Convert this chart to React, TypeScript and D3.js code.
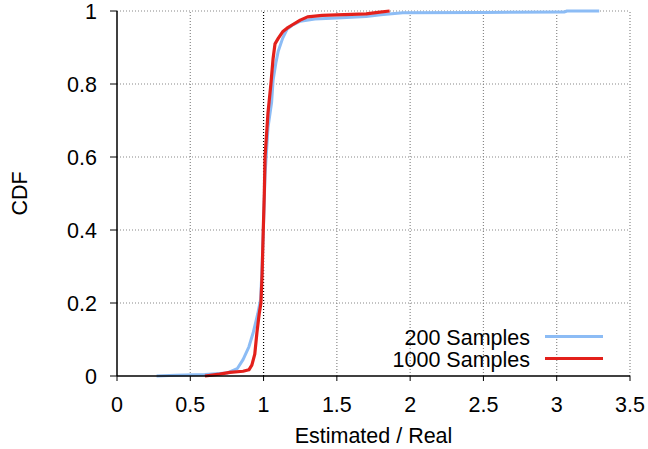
import React from "react";
import * as d3 from "d3";

const xTicks = [0, 0.5, 1, 1.5, 2, 2.5, 3, 3.5];
const yTicks = [0, 0.2, 0.4, 0.6, 0.8, 1];
const xTickLabels = ["0", "0.5", "1", "1.5", "2", "2.5", "3", "3.5"];
const yTickLabels = ["0", "0.2", "0.4", "0.6", "0.8", "1"];

// [Estimated/Real, CDF]
const samples200: [number, number][] = [
  [0.27, 0], [0.4, 0.002], [0.6, 0.004], [0.75, 0.008], [0.82, 0.02], [0.86, 0.045],
  [0.9, 0.08], [0.93, 0.12], [0.96, 0.17], [0.98, 0.21], [0.99, 0.3], [1.0, 0.42],
  [1.01, 0.55], [1.03, 0.68], [1.055, 0.75], [1.065, 0.81], [1.085, 0.86], [1.1, 0.89],
  [1.13, 0.925], [1.16, 0.95], [1.2, 0.962], [1.25, 0.972], [1.35, 0.978], [1.5, 0.981],
  [1.7, 0.985], [1.8, 0.99], [1.95, 0.995], [2.5, 0.996], [3.05, 0.997], [3.07, 1], [3.29, 1],
];
const samples1000: [number, number][] = [
  [0.6, 0], [0.7, 0.005], [0.77, 0.01], [0.86, 0.013], [0.9, 0.017], [0.92, 0.03],
  [0.94, 0.06], [0.955, 0.12], [0.97, 0.17], [0.982, 0.2], [0.99, 0.28], [0.998, 0.4],
  [1.005, 0.5], [1.01, 0.6], [1.03, 0.72], [1.05, 0.8], [1.065, 0.87], [1.078, 0.91],
  [1.1, 0.925], [1.13, 0.943], [1.16, 0.953], [1.2, 0.963], [1.25, 0.975], [1.3, 0.984],
  [1.4, 0.988], [1.55, 0.99], [1.7, 0.992], [1.78, 0.996], [1.86, 1],
];

const W = 648, H = 449;
const x0 = 117, x1 = 630, y0 = 376, y1 = 11;
const FONT = "'Liberation Sans', Arial, Helvetica, sans-serif";

export default function App() {
  const x = d3.scaleLinear().domain([0, 3.5]).range([x0, x1]);
  const y = d3.scaleLinear().domain([0, 1]).range([y0, y1]);
  const line = d3.line<[number, number]>().x((d) => x(d[0])).y((d) => y(d[1]));
  const fs = 21.5;
  return (
    <svg width={W} height={H} style={{ position: "absolute", left: 0, top: 0 }} fontFamily={FONT}>
      <rect width={W} height={H} fill="#fff" />
      {/* grid */}
      {xTicks.slice(1).map((t) => (
        <line key={"gx" + t} x1={x(t)} x2={x(t)} y1={y0} y2={y1}
          stroke={t === 1 ? "#000" : "#888"} strokeWidth={1.2} strokeDasharray="1,2" />
      ))}
      {yTicks.slice(1).map((t) => (
        <line key={"gy" + t} x1={x0} x2={x1} y1={y(t)} y2={y(t)}
          stroke="#888" strokeWidth={1.2} strokeDasharray="1,2" />
      ))}
      {/* curves */}
      <path d={line(samples200) || ""} fill="none" stroke="#8cbcf5" strokeWidth={3} strokeLinejoin="round" />
      <path d={line(samples1000) || ""} fill="none" stroke="#e3201b" strokeWidth={3.2} strokeLinejoin="round" />
      {/* axes */}
      <line x1={x0} x2={x0} y1={y0} y2={y1} stroke="#000" strokeWidth={1.5} />
      <line x1={x0} x2={x1} y1={y0} y2={y0} stroke="#000" strokeWidth={1.5} />
      {yTicks.map((t, i) => (
        <g key={"ty" + t}>
          <line x1={x0 - 7} x2={x0} y1={y(t)} y2={y(t)} stroke="#000" strokeWidth={1} />
          <text x={97} y={y(t) + 7.5} fontSize={fs} textAnchor="end" fill="#000">{yTickLabels[i]}</text>
        </g>
      ))}
      {xTicks.map((t, i) => (
        <g key={"tx" + t}>
          <line x1={x(t)} x2={x(t)} y1={y0} y2={y0 + 5} stroke="#000" strokeWidth={1} />
          <text x={x(t)} y={412} fontSize={fs} textAnchor="middle" fill="#000">{xTickLabels[i]}</text>
        </g>
      ))}
      <text x={(x0 + x1) / 2} y={443} fontSize={fs} textAnchor="middle" fill="#000">Estimated / Real</text>
      <text transform={`translate(27,${(y0 + y1) / 2}) rotate(-90)`} fontSize={fs} textAnchor="middle" fill="#000">CDF</text>
      {/* legend */}
      <text x={530} y={345} fontSize={fs} textAnchor="end" fill="#000">200 Samples</text>
      <line x1={545} x2={603} y1={336.5} y2={336.5} stroke="#8cbcf5" strokeWidth={3} />
      <text x={530} y={367} fontSize={fs} textAnchor="end" fill="#000">1000 Samples</text>
      <line x1={545} x2={603} y1={358.5} y2={358.5} stroke="#e3201b" strokeWidth={3} />
    </svg>
  );
}
